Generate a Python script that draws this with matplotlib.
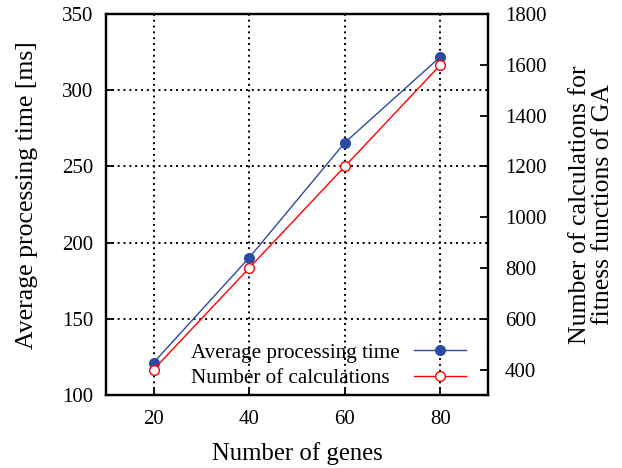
import matplotlib
matplotlib.use("Agg")
import matplotlib.pyplot as plt

genes = [20, 40, 60, 80]
avg_time = [121.2, 190.1, 265.6, 322.0]
num_calc = [400, 800, 1200, 1600]
left_ticks = [100, 150, 200, 250, 300, 350]
right_ticks = [400, 600, 800, 1000, 1200, 1400, 1600, 1800]
labels = ['Average processing time', 'Number of calculations']

plt.rcParams['font.family'] = ['Liberation Serif', 'DejaVu Serif']

fig = plt.figure(figsize=(6.22, 4.68), dpi=100)
ax = fig.add_axes([0.170, 0.156, 0.615, 0.814])
ax2 = ax.twinx()

blue = '#2b4ba3'
red = '#ff0000'

l1, = ax.plot(genes, avg_time, color=blue, lw=1.0, marker='o', ms=7,
              mfc=blue, mec=blue, label=labels[0])
l2, = ax2.plot(genes, num_calc, color=red, lw=1.0, marker='o', ms=7,
               mfc='white', mec=red, mew=1.0, label=labels[1])

ax.set_xlim(10, 90)
ax.set_ylim(100, 350)
ax2.set_ylim(300, 1800)
ax.set_xticks(genes)
ax.set_yticks(left_ticks)
ax2.set_yticks(right_ticks)

ax.grid(True, color='black', linestyle=(0, (1, 2)), lw=1.4)
ax.set_axisbelow(True)

for a in (ax, ax2):
    for s in a.spines.values():
        s.set_linewidth(1.6)
    a.tick_params(direction='in', length=6, width=1.3, labelsize=15, pad=10)
ax.tick_params(axis='y', right=False, pad=9)
ax.tick_params(axis='x', pad=11)
ax2.tick_params(axis='y', right=True, left=False, pad=12)

ax.set_xlabel('Number of genes', fontsize=17.8, labelpad=9)
ax.set_ylabel('Average processing time [ms]', fontsize=18.5)
ax.yaxis.set_label_coords(-0.178, 0.524)
ax2.set_ylabel('Number of calculations for\nfitness functions of GA', fontsize=18.5,
               labelpad=16, linespacing=1.05)

fs = 15.2
common = dict(frameon=False, fontsize=fs, labelspacing=0.25, borderaxespad=0.0,
              borderpad=0.0)
# text column (left aligned)
legA = ax2.legend([l1, l2], labels, loc='lower left', bbox_to_anchor=(0.222, 0.0185),
                  handlelength=0, handletextpad=0, **common)
for h in legA.legend_handles:
    h.set_visible(False)
ax2.add_artist(legA)
# handle column
legB = ax2.legend([l1, l2], [' ', ' '], loc='lower right', bbox_to_anchor=(0.955, 0.0185),
                  handlelength=2.45, handletextpad=0, markerfirst=True, **common)

fig.savefig('out.png', dpi=100)
